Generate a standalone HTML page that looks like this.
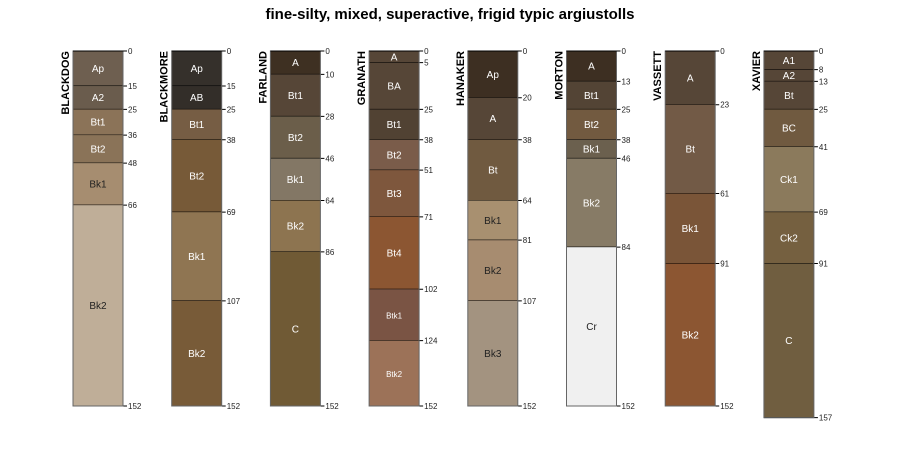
<!DOCTYPE html>
<html><head><meta charset="utf-8"><style>
body{margin:0;background:#fff}
svg{display:block;font-family:"Liberation Sans",sans-serif}
</style></head><body>
<svg id="chart" width="900" height="450">
<text x="450" y="19" text-anchor="middle" font-size="15" font-weight="bold">fine-silty, mixed, superactive, frigid typic argiustolls</text>
</svg>
<script>
const profileNames=["BLACKDOG","BLACKMORE","FARLAND","GRANATH","HANAKER","MORTON","VASSETT","XAVIER"];
const horizonNames=[
["Ap","A2","Bt1","Bt2","Bk1","Bk2"],
["Ap","AB","Bt1","Bt2","Bk1","Bk2"],
["A","Bt1","Bt2","Bk1","Bk2","C"],
["A","BA","Bt1","Bt2","Bt3","Bt4","Btk1","Btk2"],
["Ap","A","Bt","Bk1","Bk2","Bk3"],
["A","Bt1","Bt2","Bk1","Bk2","Cr"],
["A","Bt","Bk1","Bk2"],
["A1","A2","Bt","BC","Ck1","Ck2","C"]];
const horizonBottoms=[
[15,25,36,48,66,152],
[15,25,38,69,107,152],
[10,28,46,64,86,152],
[5,25,38,51,71,102,124,152],
[20,38,64,81,107,152],
[13,25,38,46,84,152],
[23,61,91,152],
[8,13,25,41,69,91,157]];
const horizonColors=[
["#6e5f50","#6a5c4d","#8b7358","#8a7358","#a68d70","#bfae98"],
["#35302b","#332e29","#765d44","#775a38","#8f7552","#785b38"],
["#3e3022","#564637","#6b5e4a","#837765","#8d7450","#705a35"],
["#564637","#564637","#514233","#7a5c4a","#7e573d","#8c5632","#7a5444","#9c7258"],
["#3d2f22","#564637","#705a40","#a89070","#a78c70","#a39380"],
["#3d2f22","#534435","#725a40","#6b604e","#877b66","#f0f0f0"],
["#564637","#725a46","#7a5538","#8c5632"],
["#564637","#564637","#564637","#705a40","#8b7a5c","#756040","#705e40"]];
const svg=document.getElementById('chart');
const NS="http://www.w3.org/2000/svg";
const y0=51, scale=355/152, x0=73, dx=98.7, w=50;
const yScale=d=>y0+d*scale;
const xScale=i=>x0+i*dx;
function mk(tag,attrs){const e=document.createElementNS(NS,tag);for(const k in attrs)e.setAttribute(k,attrs[k]);svg.appendChild(e);return e;}
function lum(c){const r=parseInt(c.substr(1,2),16),g=parseInt(c.substr(3,2),16),b=parseInt(c.substr(5,2),16);return 0.299*r+0.587*g+0.114*b;}
profileNames.forEach((name,i)=>{
  const x=xScale(i);
  let top=0;
  horizonBottoms[i].forEach((bot,j)=>{
    const r=mk('rect',{x:x,y:yScale(top),width:w,height:yScale(bot)-yScale(top),fill:horizonColors[i][j]});
    
    
    const fs=horizonNames[i][j].startsWith('Btk')?8:10;
    const t=mk('text',{x:x+w/2,y:(yScale(top)+yScale(bot))/2+3.5,'text-anchor':'middle','font-size':fs,fill:lum(horizonColors[i][j])>140?'#222':'#fff'});
    t.textContent=horizonNames[i][j];
    
    
    const l=mk('line',{x1:x,x2:x+w+4,y1:yScale(bot),y2:yScale(bot),stroke:'#000','stroke-width':1});
    
    
    const d=mk('text',{x:x+w+5,y:yScale(bot)+3,'font-size':8,fill:'#222'});
    d.textContent=bot;
    
    
    top=bot;
  });
  const z=mk('text',{x:x+w+5,y:y0+3,'font-size':8,fill:'#222'});
  z.textContent='0';
  
  
  const ol=mk('rect',{x:x,y:y0,width:w,height:yScale(top)-y0,fill:'none',stroke:'#666','stroke-width':1});
  
  
  const tl=mk('line',{x1:x,x2:x+w+4,y1:y0,y2:y0,stroke:'#000','stroke-width':1});
  
  
  const n=mk('text',{transform:'translate('+(x-4)+','+y0+') rotate(-90)','text-anchor':'end','font-size':11,'font-weight':'bold',fill:'#000'});
  n.textContent=name;
  
  
});
</script>
</body></html>
